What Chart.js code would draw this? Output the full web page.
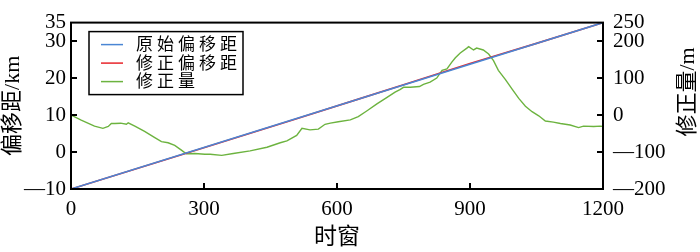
<!DOCTYPE html>
<html>
<head>
<meta charset="utf-8">
<script src="https://cdn.jsdelivr.net/npm/chart.js@4.4.0/dist/chart.umd.min.js"></script>
<style>
  html, body { margin: 0; padding: 0; background: #fff; }
  #wrap { width: 700px; height: 252px; }
</style>
</head>
<body>
<div id="wrap"><canvas id="offsetChart"></canvas></div>
<script>
/* ====== DATA ====== */
const seriesNames = ["原始偏移距", "修正偏移距", "修正量"];

// 原始偏移距 (km)
const origT  = [0, 1200];
const origKm = [-10, 35];

// 修正偏移距 (km)
const corrT  = [0, 260, 500, 650, 750, 900, 950, 1050, 1200];
const corrKm = [-10, -0.36, 8.69, 14.37, 18.2, 23.93, 25.78, 29.38, 34.97];

// 修正量 (m)
const amountT = [0, 23, 53, 72, 84, 91, 99, 112, 125, 129, 144, 166, 189, 204, 219, 234, 249, 260,
  279, 302, 314, 340, 366, 404, 442, 472, 487, 509, 521, 539, 558, 573, 585, 603, 630, 648, 667,
  690, 712, 731, 742, 750, 765, 786, 795, 810, 825, 837, 848, 859, 867, 878, 893, 897, 908, 915,
  930, 942, 953, 964, 980, 995, 1010, 1025, 1040, 1055, 1070, 1088, 1104, 1126, 1145, 1156, 1179, 1194, 1200];
const amountM = [0, -14, -30, -36, -31, -23, -23, -22, -25, -21, -30, -44, -61, -72, -75, -82, -95, -105,
  -104, -106, -106, -109, -104, -97, -87, -75, -70, -55, -36, -40, -38, -25, -22, -18, -13, -4, 11,
  30, 47, 62, 69, 75, 75, 77, 83, 89, 100, 121, 125, 143, 155, 168, 181, 185, 176, 181,
  176, 165, 147, 121, 96, 70, 45, 24, 9, -2, -16, -19, -23, -27, -34, -30, -31, -30, -31];

const xTicks     = [0, 300, 600, 900, 1200];
const leftTicks  = [-10, 0, 10, 20, 30, 35];
const rightTicks = [-200, -100, 0, 100, 200, 250];

const toPoints = (xs, ys) => xs.map((x, i) => ({ x: x, y: ys[i] }));
const serif = "'Liberation Serif', 'Noto Sans CJK SC', serif";
const dashMinus = v => String(v).replace("-", "—");

/* ====== FRAME, INWARD TICKS, LEGEND, RIGHT TITLE ====== */
const framePlugin = {
    id: "frame",
    afterDraw(chart) {
        const { ctx, chartArea: a, scales } = chart;
        ctx.save();
        ctx.strokeStyle = "#000";
        ctx.lineWidth = 2;
        ctx.strokeRect(a.left, a.top, a.right - a.left, a.bottom - a.top);

        ctx.beginPath();
        xTicks.slice(1, -1).forEach(v => {
            const x = scales.x.getPixelForValue(v);
            ctx.moveTo(x, a.bottom); ctx.lineTo(x, a.bottom - 6);
        });
        leftTicks.slice(1, -1).forEach(v => {
            const y = scales.y.getPixelForValue(v);
            ctx.moveTo(a.left, y); ctx.lineTo(a.left + 6, y);
        });
        rightTicks.slice(1, -1).forEach(v => {
            const y = scales.y1.getPixelForValue(v);
            ctx.moveTo(a.right, y); ctx.lineTo(a.right - 6, y);
        });
        ctx.stroke();

        // legend box
        const lx = a.left + 18, ly = a.top + 9, lw = 154, lh = 63;
        ctx.lineWidth = 1.5;
        ctx.strokeRect(lx, ly, lw, lh);
        ctx.font = "17px " + serif;
        ctx.textBaseline = "middle";
        ctx.letterSpacing = "4px";
        chart.data.datasets.forEach((ds, i) => {
            const y = ly + 13 + i * 18.5;
            ctx.strokeStyle = ds.borderColor;
            ctx.lineWidth = 1.5;
            ctx.beginPath();
            ctx.moveTo(lx + 12, y); ctx.lineTo(lx + 34, y);
            ctx.stroke();
            ctx.fillStyle = "#000";
            ctx.fillText(ds.label, lx + 47, y + 1);
        });
        ctx.letterSpacing = "0px";

        // right axis title, read bottom to top
        ctx.translate(688, 92);
        ctx.rotate(-Math.PI / 2);
        ctx.font = "22px " + serif;
        ctx.textAlign = "center";
        ctx.fillStyle = "#000";
        ctx.fillText("修正量/m", 0, 0);
        ctx.restore();
    }
};

/* ====== CHART ====== */
new Chart(document.getElementById("offsetChart"), {
    type: "line",
    data: {
        datasets: [
            {
                label: seriesNames[0],
                data: toPoints(origT, origKm),
                borderColor: "#4a86d4",
                borderWidth: 1.6,
                yAxisID: "y",
            },
            {
                label: seriesNames[1],
                data: toPoints(corrT, corrKm),
                borderColor: "#e8252b",
                borderWidth: 1.6,
                yAxisID: "y",
            },
            {
                label: seriesNames[2],
                data: toPoints(amountT, amountM),
                borderColor: "#6cb33f",
                borderWidth: 1.4,
                yAxisID: "y1",
            },
        ]
    },
    options: {
        responsive: true,
        maintainAspectRatio: false,
        animation: false,
        elements: { point: { radius: 0 }, line: { tension: 0 } },
        layout: { padding: { top: 13, left: 0, right: 0, bottom: 0 } },
        plugins: { legend: { display: false }, tooltip: { enabled: false } },
        scales: {
            x: {
                type: "linear",
                min: 0, max: 1200,
                afterBuildTicks: s => { s.ticks = xTicks.map(v => ({ value: v })); },
                afterFit: s => { s.height = 63; },
                grid: { display: true, drawOnChartArea: false, drawTicks: false },
                border: { display: true, color: "#000", width: 2 },
                ticks: { color: "#000", padding: 8, maxRotation: 0, callback: v => String(v), font: { family: serif, size: 21 } },
                title: { display: true, text: "时窗", color: "#000", padding: 0, font: { family: serif, size: 23 } }
            },
            y: {
                position: "left",
                min: -10, max: 35,
                afterBuildTicks: s => { s.ticks = leftTicks.map(v => ({ value: v })); },
                afterFit: s => { s.width = 71; },
                grid: { display: true, drawOnChartArea: false, drawTicks: false },
                border: { display: true, color: "#000", width: 2 },
                ticks: { color: "#000", padding: 5, callback: dashMinus, font: { family: serif, size: 21 } },
                title: { display: true, text: "偏移距/km", color: "#000", padding: 0, font: { family: serif, size: 22 } }
            },
            y1: {
                position: "right",
                min: -200, max: 250,
                afterBuildTicks: s => { s.ticks = rightTicks.map(v => ({ value: v })); },
                afterFit: s => { s.width = 97; },
                grid: { display: true, drawOnChartArea: false, drawTicks: false },
                border: { display: true, color: "#000", width: 2 },
                ticks: { color: "#000", padding: 10, callback: dashMinus, font: { family: serif, size: 21 } }
            }
        }
    },
    plugins: [framePlugin]
});
</script>
</body>
</html>
